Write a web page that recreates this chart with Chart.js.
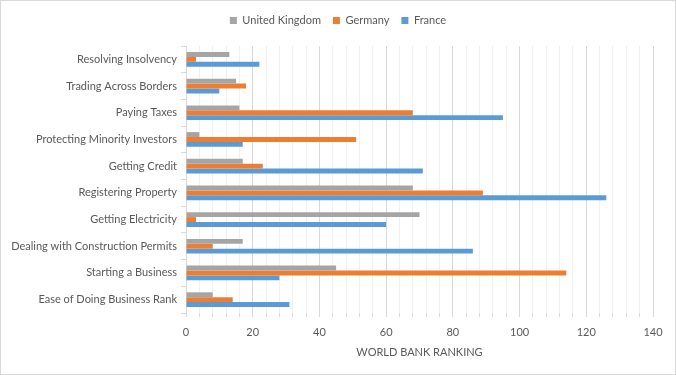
<!DOCTYPE html>
<html>
<head>
<meta charset="utf-8">
<script src="https://cdn.jsdelivr.net/npm/chart.js@4.4.1/dist/chart.umd.min.js"></script>
<style>
html,body{margin:0;padding:0;background:#fff;}
canvas{display:block;}
</style>
</head>
<body>
<canvas id="c" width="676" height="375"></canvas>
<script>
const categories = [
  "Resolving Insolvency",
  "Trading Across Borders",
  "Paying Taxes",
  "Protecting Minority Investors",
  "Getting Credit",
  "Registering Property",
  "Getting Electricity",
  "Dealing with Construction Permits",
  "Starting a Business",
  "Ease of Doing Business Rank"
];
const seriesNames = ["United Kingdom", "Germany", "France"];
const ukValues      = [13, 15, 16, 4, 17, 68, 70, 17, 45, 8];
const germanyValues = [3, 18, 68, 51, 23, 89, 3, 8, 114, 14];
const franceValues  = [22, 10, 95, 17, 71, 126, 60, 86, 28, 31];
const axisTitle = "WORLD BANK RANKING";
const xMin = 0, xMax = 140, majorStep = 20, minorStep = 4;

const colors = ["#A5A5A5", "#ED7D31", "#5B9BD5"];
const textColor = "#595959";
const fontFamily = "Lato, 'Open Sans', sans-serif";

const bgPlugin = {
  id: 'bg',
  beforeInit(chart) {
    if (chart.legend) {
      const orig = chart.legend.fit;
      chart.legend.fit = function () { orig.call(this); this.height += 10; };
    }
  },
  afterLayout(chart) {
    if (chart.legend) {
      chart.legend.left = 0;
      chart.legend.right = chart.width;
      chart.legend.width = chart.width;
    }
  },
  beforeDraw(chart) {
    const ctx = chart.ctx;
    ctx.save();
    ctx.fillStyle = '#fff';
    ctx.fillRect(0, 0, chart.width, chart.height);
    ctx.restore();
  },
  afterDraw(chart) {
    const ctx = chart.ctx;
    ctx.save();
    ctx.strokeStyle = '#D9D9D9';
    ctx.lineWidth = 1;
    ctx.strokeRect(0.5, 0.5, chart.width - 1, chart.height - 1);
    ctx.restore();
  }
};

new Chart(document.getElementById('c'), {
  type: 'bar',
  data: {
    labels: categories,
    datasets: [
      { label: seriesNames[0], data: ukValues, backgroundColor: colors[0] },
      { label: seriesNames[1], data: germanyValues, backgroundColor: colors[1] },
      { label: seriesNames[2], data: franceValues, backgroundColor: colors[2] }
    ]
  },
  options: {
    indexAxis: 'y',
    responsive: false,
    animation: false,
    devicePixelRatio: 1,
    layout: { padding: { left: 0, right: 23, top: 3, bottom: 0 } },
    datasets: { bar: { categoryPercentage: 0.55, barPercentage: 1.0 } },
    plugins: {
      legend: {
        position: 'top',
        labels: {
          boxWidth: 7, boxHeight: 7, padding: 12,
          color: textColor,
          font: { family: fontFamily, size: 11 }
        }
      },
      tooltip: { enabled: false }
    },
    scales: {
      x: {
        min: xMin, max: xMax,
        ticks: {
          stepSize: minorStep,
          autoSkip: false,
          maxRotation: 0,
          color: textColor,
          font: { family: fontFamily, size: 11 },
          padding: 9,
          callback: (v) => (v % majorStep === 0 ? String(v) : '')
        },
        grid: {
          color: (c) => (c.tick && c.tick.value % majorStep === 0 ? '#D9D9D9' : '#F0F0F0'),
          tickColor: '#D9D9D9',
          tickLength: 4,
          lineWidth: 1
        },
        border: { display: false },
        title: {
          display: true, text: axisTitle, color: textColor,
          font: { family: fontFamily, size: 11 }, padding: { top: 4, bottom: 16 }
        },
        afterFit(scale) { scale.height = 62; }
      },
      y: {
        ticks: {
          color: textColor,
          font: { family: fontFamily, size: 11 },
          padding: 4
        },
        grid: {
          drawOnChartArea: false,
          drawTicks: true,
          tickLength: 5,
          color: '#D9D9D9',
          offset: true
        },
        border: { display: true, color: '#D9D9D9' },
        afterFit(scale) { scale.width = 186; }
      }
    }
  },
  plugins: [bgPlugin]
});
</script>
</body>
</html>
